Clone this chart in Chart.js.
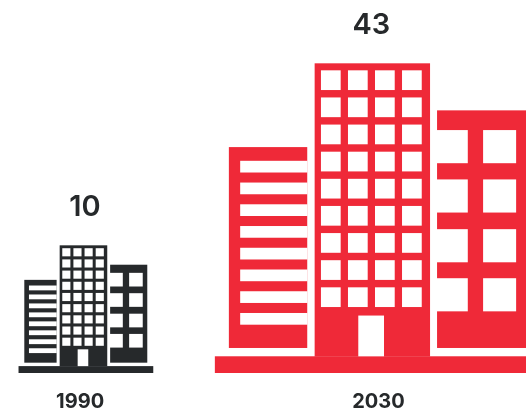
<!DOCTYPE html>
<html>
<head>
<meta charset="utf-8">
<style>html,body{margin:0;padding:0;background:#fff}canvas{display:block}</style>
<script src="https://cdn.jsdelivr.net/npm/chart.js@4"></script>
</head>
<body>
<canvas id="c" width="526" height="409"></canvas>
<script>
const years = [1990, 2030];
const yearLabels = ["1990", "2030"];
const values = [10, 43];
const colors = ["#26292B", "#EF2938"];
const textColor = "#26292B";
const labelFont = "Inter, 'Open Sans', sans-serif";

// The pictogram, in its own drawing units; it is scaled to each bar's height.
const G = {ox: 378.5, oy: 372.7, h: 309.4};
const towerCx = 372.4;
function rects() {
  const r = {solid: [], holes: []};
  r.solid.push([215, 356, 326.5, 16.7]);           // ground slab
  r.solid.push([314.7, 63.3, 115.3, 293]);         // tower
  for (let row = 0; row < 9; row++) for (let col = 0; col < 4; col++)
    r.holes.push([321 + col * 27, 70.3 + row * 27.1, 19.7, 19.7]);
  r.holes.push([358.3, 315.3, 25.7, 40.7]);        // door
  r.solid.push([229, 147, 78.3, 200.7]);           // left block
  for (let i = 0; i < 8; i++)
    r.holes.push([240.3, 160.7 + i * 21.72, 67.2, 11.7]);
  r.solid.push([437, 110.3, 90, 237.4]);           // right block
  [130, 179.3, 229, 278].forEach(y => {
    r.holes.push([436.5, y, 31.2, 33.1]);
    r.holes.push([483, y, 33, 33.1]);
  });
  return r;
}

const buildingPlugin = {
  id: "buildings",
  afterDatasetsDraw(chart) {
    const ctx = chart.ctx;
    const bars = chart.getDatasetMeta(0).data;
    const shape = rects();
    bars.forEach((bar, i) => {
      const s = (bar.base - bar.y) / G.h;
      const px = x => bar.x + (x - G.ox) * s;
      const py = y => bar.base + (y - G.oy) * s;
      ctx.save();
      ctx.fillStyle = colors[i];
      shape.solid.forEach(q => ctx.fillRect(px(q[0]), py(q[1]), q[2] * s, q[3] * s));
      ctx.fillStyle = "#ffffff";
      shape.holes.forEach(q => ctx.fillRect(px(q[0]), py(q[1]), q[2] * s, q[3] * s));
      ctx.fillStyle = textColor;
      ctx.font = "600 29px " + labelFont;
      ctx.textAlign = "center";
      ctx.textBaseline = "middle";
      ctx.fillText(String(values[i]), px(towerCx) + (i === 0 ? 1.5 : -1), bar.y - 38.5);
      ctx.restore();
    });
  }
};

const yMin = -13.15, yMax = 54.48;
const tickAt = [1989.2, 2030];

new Chart(document.getElementById("c"), {
  type: "bar",
  plugins: [buildingPlugin],
  data: {
    datasets: [{
      data: years.map((y, i) => ({x: y, y: values[i]})),
      base: yMin,
      backgroundColor: "rgba(0,0,0,0)",
      borderWidth: 0,
      barThickness: 40
    }]
  },
  options: {
    responsive: false,
    animation: false,
    layout: {padding: 0},
    plugins: {legend: {display: false}, tooltip: {enabled: false}, title: {display: false}},
    scales: {
      x: {
        type: "linear",
        offset: false,
        min: 1978.24,
        max: 2050.17,
        grid: {display: false, drawTicks: false, offset: false},
        border: {display: false},
        afterBuildTicks(scale) { scale.ticks = tickAt.map(v => ({value: v})); },
        afterFit(scale) { scale.height = 36; },
        ticks: {
          autoSkip: false,
          maxRotation: 0,
          padding: 17,
          color: textColor,
          font: {family: labelFont, size: 20, weight: "700"},
          callback: (v, i) => yearLabels[i]
        }
      },
      y: {display: false, min: yMin, max: yMax}
    }
  }
});
</script>
</body>
</html>
